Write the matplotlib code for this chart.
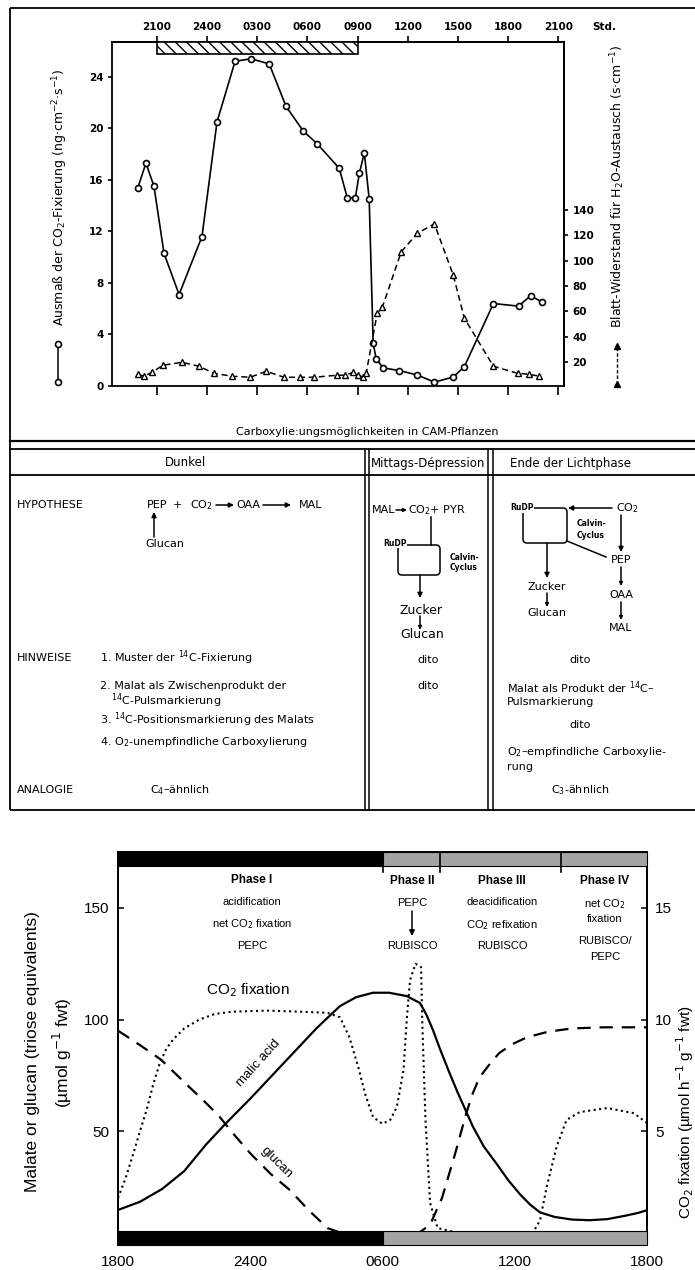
import matplotlib
matplotlib.use('Agg')
import matplotlib.pyplot as plt
from matplotlib.patches import Rectangle, FancyBboxPatch

# ---------------- data: upper chart (hours after 21:00) ----------------
top_tick_labels = ['2100', '2400', '0300', '0600', '0900', '1200', '1500', '1800', '2100']
top_tick_hours = [0, 3, 6, 9, 12, 15, 18, 21, 24]
dark_period = [0, 12]

co2_hours = [-1.14, -0.66, -0.18, 0.42, 1.32, 2.69, 3.59, 4.67, 5.63, 6.71, 7.72, 8.74,
             9.58, 10.90, 11.38, 11.86, 12.10, 12.40, 12.69, 12.93, 13.11, 13.53, 14.49,
             15.57, 16.59, 17.72, 18.38, 20.12, 21.62, 22.34, 23.05]
co2_rate = [15.4, 17.3, 15.5, 10.3, 7.1, 11.6, 20.5, 25.2, 25.4, 25.0, 21.7, 19.8,
            18.8, 16.9, 14.6, 14.6, 16.5, 18.1, 14.5, 3.3, 2.1, 1.4, 1.2,
            0.85, 0.3, 0.7, 1.5, 6.4, 6.2, 7.0, 6.5]

res_hours = [-1.14, -0.78, -0.30, 0.36, 1.50, 2.51, 3.41, 4.49, 5.57, 6.53, 7.60, 8.56,
             9.40, 10.78, 11.26, 11.74, 12.04, 12.34, 12.51, 13.17, 13.47, 14.61, 15.57,
             16.59, 17.72, 18.38, 20.12, 21.56, 22.22, 22.87]
res_values = [10.3, 8.7, 11.8, 17.4, 19.7, 16.6, 11.0, 8.7, 7.9, 12.6, 7.9, 7.9,
              7.9, 9.5, 9.5, 11.8, 9.5, 7.9, 11.0, 58.4, 63.0, 107.0, 121.5,
              129.0, 88.4, 54.5, 16.6, 11.0, 10.3, 8.7]

left_ticks_top = [0, 4, 8, 12, 16, 20, 24]
right_ticks_top = [20, 40, 60, 80, 100, 120, 140]

# ---------------- data: lower chart (hours after 18:00) ----------------
bottom_tick_labels = ['1800', '2400', '0600', '1200', '1800']
bottom_tick_hours = [0, 6, 12, 18, 24]
phase_bounds = [12, 14.6, 20.1]

malate_hours = [0, 1, 2, 3, 4, 4.85, 6, 7, 8, 9, 9.53, 10.07, 10.8, 11.57, 12.3, 13.1,
                13.7, 14.0, 14.3, 14.6, 15.0, 15.4, 16.1, 16.6, 17.2, 17.7, 18.25, 18.7,
                19.15, 19.8, 20.6, 21.4, 22.2, 23.0, 23.6, 24]
malate_values = [14.6, 18.3, 24, 32, 44, 53, 64.5, 75, 85.5, 96, 101, 106, 110, 112, 112,
                 110.5, 107.4, 102, 95, 87, 77, 67.5, 52, 43, 35, 28, 21.5, 17,
                 13.5, 11.5, 10.3, 10, 10.5, 12, 13.3, 14.5]

glucan_hours = [0, 1, 1.95, 3.1, 4, 4.6, 5.3, 6.0, 6.9, 7.8, 8.6, 9.5, 10.5, 12, 13,
                13.6, 14.16, 14.7, 15.3, 15.8, 16.1, 16.4, 16.9, 17.3, 17.9, 18.55, 19.5,
                20.6, 22, 24]
glucan_values = [95, 88.5, 82, 71, 62.5, 56.5, 48, 40, 31, 23.5, 15, 6.5, 3, 2, 2.5,
                 4, 8, 20, 40, 58, 67, 74, 80.5, 85, 89, 92, 94.5,
                 96, 96.5, 96.5]

fix_hours = [0, 0.35, 0.7, 1.0, 1.3, 1.6, 1.9, 2.2, 2.5, 3.0, 3.7, 4.4, 5.2, 6.76, 8.25,
             9.5, 10.07, 10.5, 10.9, 11.2, 11.57, 12.0, 12.35, 12.65, 12.95, 13.1, 13.25,
             13.5, 13.75, 13.8, 13.95, 14.16, 14.5, 16.0, 18.0, 18.8, 19.15, 19.45, 19.9,
             20.35, 20.95, 22.2, 23.4, 24]
fix_values = [2.0, 2.9, 4.0, 5.0, 5.95, 7.1, 8.05, 8.7, 9.1, 9.6, 10.0, 10.25, 10.35, 10.4,
              10.35, 10.3, 10.1, 9.2, 7.87, 6.7, 5.63, 5.32, 5.5, 6.08, 7.7, 10.0, 11.77,
              12.5, 12.35, 10.0, 5.5, 1.77, 0.65, 0.3, 0.3, 0.4, 1.0, 2.5, 4.3,
              5.5, 5.85, 6.03, 5.8, 5.36]

left_ticks_bottom = [50, 100, 150]
right_ticks_bottom = [5, 10, 15]

# ---------------- figure ----------------
W, H = 695, 1270
fig = plt.figure(figsize=(6.95, 12.7), dpi=100)
fig.patch.set_facecolor('white')

over = fig.add_axes([0, 0, 1, 1], zorder=0)
over.set_xlim(0, W)
over.set_ylim(H, 0)
over.axis('off')


def rect(l, t, r, b):
    return [l / W, 1 - b / H, (r - l) / W, (b - t) / H]


NARROW = ['Liberation Sans Narrow', 'DejaVu Sans']
ARIAL = ['Liberation Sans', 'DejaVu Sans']

# ===== upper chart =====
ax1 = fig.add_axes(rect(112, 42, 564, 386), zorder=2)
ax1.set_facecolor('none')
ax1.set_xlim(-2.69, 24.34)
ax1.set_ylim(0, 26.7)
ax1.plot(co2_hours, co2_rate, '-o', color='k', lw=1.2, ms=4.3, mfc='white', mew=1.2)
ax1.add_patch(Rectangle((dark_period[0], 0.965), dark_period[1] - dark_period[0], 0.035,
                        transform=ax1.get_xaxis_transform(), facecolor='white',
                        edgecolor='k', hatch='\\\\\\', lw=1.2, zorder=3))
for s in ax1.spines.values():
    s.set_linewidth(1.3)
ax1.set_yticks(left_ticks_top)
ax1.set_yticklabels([str(v) for v in left_ticks_top], family=NARROW, fontweight='bold', fontsize=7.5)
ax1.set_xticks(top_tick_hours)
ax1.tick_params(axis='x', bottom=True, labelbottom=False, direction='out', length=6.5, width=1.2)
ax1.tick_params(axis='y', direction='out', length=3, width=1.2, pad=3)

sec = ax1.secondary_xaxis('top')
sec.set_xticks(top_tick_hours)
sec.set_xticklabels(top_tick_labels, family=NARROW, fontweight='bold', fontsize=7.5)
sec.tick_params(direction='out', length=4.5, width=1.2, pad=3)
sec.spines['top'].set_linewidth(1.3)

ax1r = ax1.twinx()
ax1r.set_ylim(1.0, 272.5)
ax1r.plot(res_hours, res_values, '--^', color='k', lw=1.1, ms=3.8, mfc='white', mew=1.0,
          dashes=(4, 2.5))
for k, s in ax1r.spines.items():
    s.set_visible(k == 'right')
    s.set_linewidth(1.3)
ax1r.set_yticks(right_ticks_top)
ax1r.set_yticklabels([str(v) for v in right_ticks_top], family=NARROW, fontweight='bold', fontsize=7.5)
ax1r.tick_params(axis='y', direction='out', length=3, width=1.2, pad=3)

over.text(60, 197, 'Ausmaß der CO$_2$-Fixierung (ng·cm$^{-2}$·s$^{-1}$)', rotation=90,
          ha='center', va='center', fontsize=9)
over.text(618, 186, 'Blatt-Widerstand für H$_2$O-Austausch (s·cm$^{-1}$)', rotation=90,
          ha='center', va='center', fontsize=9)
over.plot([58, 58], [344, 382], '-o', color='k', lw=1.1, ms=4.3, mfc='white', mew=1.2)
over.plot([617, 617], [384, 346], '--^', color='k', lw=1.0, ms=3.8, mfc='k', dashes=(2.5, 1.5))
over.text(592, 27, 'Std.', ha='left', va='center', family=NARROW, fontweight='bold', fontsize=7.5)
over.text(367, 432, 'Carboxylie:ungsmöglichkeiten in CAM-Pflanzen', ha='center', va='center',
          fontsize=8)

# ===== frame / table lines =====
lk = dict(color='k', lw=1.3, solid_capstyle='butt')
over.plot([10, 10], [8, 810], **lk)
over.plot([10, W], [8, 8], **lk)
over.plot([10, W], [441, 441], color='k', lw=1.6)
over.plot([10, W], [449, 449], **lk)
over.plot([10, W], [475, 475], **lk)
over.plot([10, W], [810, 810], **lk)
for x in (365, 368.5, 488, 492.5):
    over.plot([x, x], [449, 810], color='k', lw=1.1)

over.text(185, 463, 'Dunkel', ha='center', va='center', fontsize=8.5)
over.text(428, 463, 'Mittags-Dépression', ha='center', va='center', fontsize=8.5)
over.text(510, 463, 'Ende der Lichtphase', ha='left', va='center', fontsize=8.5)

arr = dict(arrowstyle='-|>', color='k', lw=1.1, mutation_scale=7, shrinkA=0, shrinkB=0)


def arrow(x0, y0, x1, y1, ms=7):
    a = dict(arr)
    a['mutation_scale'] = ms
    over.annotate('', xy=(x1, y1), xytext=(x0, y0), arrowprops=a)


fs = 8
# Dunkel column
over.text(17, 505, 'HYPOTHESE', ha='left', va='center', fontsize=fs)
over.text(157, 505, 'PEP', ha='center', va='center', fontsize=fs)
over.text(177, 505, '+', ha='center', va='center', fontsize=fs)
over.text(201, 505, 'CO$_2$', ha='center', va='center', fontsize=fs)
arrow(216, 505, 234, 505)
over.text(248, 505, 'OAA', ha='center', va='center', fontsize=fs)
arrow(263, 505, 291, 505)
over.text(311, 505, 'MAL', ha='center', va='center', fontsize=fs)
arrow(154, 537, 154, 512)
over.text(165, 544, 'Glucan', ha='center', va='center', fontsize=fs)

over.text(17, 658, 'HINWEISE', ha='left', va='center', fontsize=fs)
over.text(100, 658, '1. Muster der $^{14}$C-Fixierung', ha='left', va='center', fontsize=fs)
over.text(100, 686, '2. Malat als Zwischenprodukt der', ha='left', va='center', fontsize=fs)
over.text(111, 701, '$^{14}$C-Pulsmarkierung', ha='left', va='center', fontsize=fs)
over.text(100, 720, '3. $^{14}$C-Positionsmarkierung des Malats', ha='left', va='center', fontsize=fs)
over.text(100, 742, '4. O$_2$-unempfindliche Carboxylierung', ha='left', va='center', fontsize=fs)
over.text(17, 790, 'ANALOGIE', ha='left', va='center', fontsize=fs)
over.text(150, 790, 'C$_4$–ähnlich', ha='left', va='center', fontsize=fs)

# Mittags column
over.text(384, 510, 'MAL', ha='center', va='center', fontsize=fs)
arrow(396, 510, 407, 510, ms=5)
over.text(408, 510, 'CO$_2$+ PYR', ha='left', va='center', fontsize=fs)
over.plot([431, 431], [517, 545], color='k', lw=1.1)
over.add_patch(FancyBboxPatch((398, 545), 42, 30, boxstyle='round,pad=0,rounding_size=4',
                              fc='none', ec='k', lw=1.1))
over.text(395, 543, 'RuDP', ha='center', va='center', fontsize=5.5, fontweight='bold',
          bbox=dict(fc='white', ec='none', pad=0.3))
over.text(450, 557, 'Calvin-', ha='left', va='center', fontsize=5.5, fontweight='bold')
over.text(450, 568, 'Cyclus', ha='left', va='center', fontsize=5.5, fontweight='bold')
arrow(420, 575, 420, 598)
over.text(421, 610, 'Zucker', ha='center', va='center', fontsize=9)
arrow(420, 616, 420, 630, ms=5)
over.text(422, 635, 'Glucan', ha='center', va='center', fontsize=9)
over.text(428, 660, 'dito', ha='center', va='center', fontsize=fs)
over.text(428, 686, 'dito', ha='center', va='center', fontsize=fs)

# Ende column
over.add_patch(FancyBboxPatch((523, 508), 44, 35, boxstyle='round,pad=0,rounding_size=4',
                              fc='none', ec='k', lw=1.1))
over.text(522, 508, 'RuDP', ha='center', va='center', fontsize=5.5, fontweight='bold',
          bbox=dict(fc='white', ec='none', pad=0.3))
arrow(612, 508, 568, 508)
over.text(627, 508, 'CO$_2$', ha='center', va='center', fontsize=fs)
arrow(621, 515, 621, 552)
over.text(577, 524, 'Calvin-', ha='left', va='center', fontsize=5.5, fontweight='bold')
over.text(577, 535, 'Cyclus', ha='left', va='center', fontsize=5.5, fontweight='bold')
over.plot([567, 606], [541, 557], color='k', lw=1.1)
over.text(621, 560, 'PEP', ha='center', va='center', fontsize=fs)
arrow(621, 567, 621, 586, ms=5)
over.text(621, 595, 'OAA', ha='center', va='center', fontsize=fs)
arrow(621, 602, 621, 620, ms=5)
over.text(621, 628, 'MAL', ha='center', va='center', fontsize=fs)
arrow(547, 543, 547, 578)
over.text(547, 587, 'Zucker', ha='center', va='center', fontsize=fs)
arrow(547, 593, 547, 607, ms=5)
over.text(547, 613, 'Glucan', ha='center', va='center', fontsize=fs)
over.text(580, 660, 'dito', ha='center', va='center', fontsize=fs)
over.text(507, 688, 'Malat als Produkt der $^{14}$C–', ha='left', va='center', fontsize=fs)
over.text(507, 702, 'Pulsmarkierung', ha='left', va='center', fontsize=fs)
over.text(580, 725, 'dito', ha='center', va='center', fontsize=fs)
over.text(507, 752, 'O$_2$–empfindliche Carboxylie-', ha='left', va='center', fontsize=fs)
over.text(507, 767, 'rung', ha='left', va='center', fontsize=fs)
over.text(580, 790, 'C$_3$-ähnlich', ha='center', va='center', fontsize=fs)

# ===== lower chart =====
ax2 = fig.add_axes(rect(118, 852, 647, 1245), zorder=2)
ax2.set_facecolor('none')
ax2.set_xlim(0, 24)
ax2.set_ylim(-1.1, 175.1)
ax2.plot(malate_hours, malate_values, '-', color='k', lw=1.6)
ax2.plot(glucan_hours, glucan_values, '--', color='k', lw=1.6, dashes=(6, 4))
ax2.set_xticks(bottom_tick_hours)
ax2.set_xticklabels(bottom_tick_labels, family=ARIAL, fontsize=11)
ax2.tick_params(axis='x', length=0, pad=7)
ax2.set_yticks(left_ticks_bottom)
ax2.set_yticklabels([str(v) for v in left_ticks_bottom], family=ARIAL, fontsize=11)
ax2.tick_params(axis='y', direction='in', length=4, width=1.1, pad=6)
for s in ax2.spines.values():
    s.set_linewidth(1.3)

ax2r = ax2.twinx()
ax2r.set_ylim(-0.11, 17.51)
ax2r.plot(fix_hours, fix_values, ':', color='k', lw=1.5)
ax2r.set_yticks(right_ticks_bottom)
ax2r.set_yticklabels([str(v) for v in right_ticks_bottom], family=ARIAL, fontsize=11)
ax2r.tick_params(axis='y', direction='in', length=4, width=1.1, pad=6)
for s in ax2r.spines.values():
    s.set_linewidth(1.3)

tr = ax2r.get_xaxis_transform()
bar_h = 0.036
for (x0, x1, c) in [(0, phase_bounds[0], 'k'), (phase_bounds[0], 24, '#a3a3a3')]:
    ax2r.add_patch(Rectangle((x0, 1 - bar_h), x1 - x0, bar_h, transform=tr, fc=c, ec='k',
                             lw=0.8, zorder=5, clip_on=False))
    ax2r.add_patch(Rectangle((x0, 0), x1 - x0, bar_h, transform=tr, fc=c, ec='k',
                             lw=0.8, zorder=5, clip_on=False))
for xb in phase_bounds:
    ax2r.plot([xb, xb], [1, 0.948], transform=tr, color='k', lw=1.2, zorder=6)

over.text(33, 1052, 'Malate or glucan (triose equivalents)', rotation=90, ha='center',
          va='center', family=ARIAL, fontsize=12.5)
over.text(62, 1053, '(µmol g$^{-1}$ fwt)', rotation=90, ha='center', va='center',
          family=ARIAL, fontsize=12.5)
over.text(685, 1112, 'CO$_2$ fixation (µmol h$^{-1}$ g$^{-1}$ fwt)', rotation=90, ha='center',
          va='center', family=ARIAL, fontsize=11)

over.text(248, 990, 'CO$_2$ fixation', ha='center', va='center', family=ARIAL, fontsize=11, zorder=5)
over.text(258, 1063, 'malic acid', ha='center', va='center', family=ARIAL, fontsize=9.5,
          rotation=48, zorder=5)
over.text(277, 1163, 'glucan', ha='center', va='center', family=ARIAL, fontsize=9.5,
          rotation=-45, zorder=5)

pf = dict(ha='center', va='center', family=ARIAL, fontsize=8, zorder=5)
pb = dict(pf, fontweight='bold', fontsize=8.5)
over.text(252, 880, 'Phase I', **pb)
over.text(252, 902, 'acidification', **pf)
over.text(252, 924, 'net CO$_2$ fixation', **pf)
over.text(252, 946, 'PEPC', **pf)
over.text(412, 881, 'Phase II', **pb)
over.text(412, 903, 'PEPC', **pf)
arrow(412, 911, 412, 936, ms=8)
over.text(412, 946, 'RUBISCO', **pf)
over.text(502, 881, 'Phase III', **pb)
over.text(502, 902, 'deacidification', **pf)
over.text(502, 925, 'CO$_2$ refixation', **pf)
over.text(502, 946, 'RUBISCO', **pf)
over.text(605, 881, 'Phase IV', **pb)
over.text(605, 904, 'net CO$_2$', **pf)
over.text(605, 919, 'fixation', **pf)
over.text(605, 941, 'RUBISCO/', **pf)
over.text(605, 957, 'PEPC', **pf)

fig.savefig('out.png', dpi=100, facecolor='white')
